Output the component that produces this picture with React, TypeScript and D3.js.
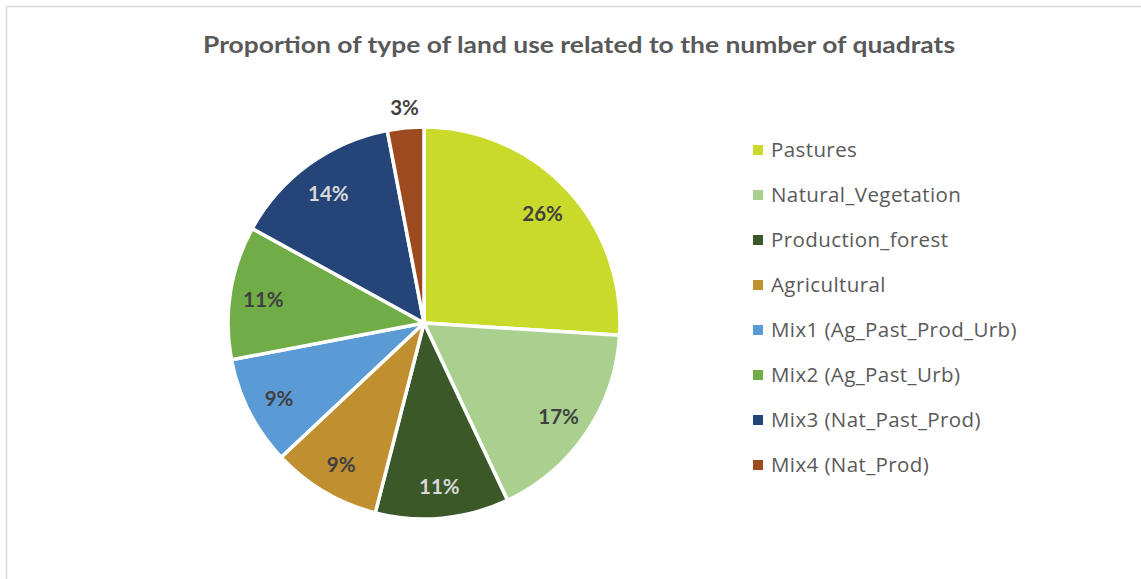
import React from "react";
import * as d3 from "d3";

const categories = [
  "Pastures",
  "Natural_Vegetation",
  "Production_forest",
  "Agricultural",
  "Mix1 (Ag_Past_Prod_Urb)",
  "Mix2 (Ag_Past_Urb)",
  "Mix3 (Nat_Past_Prod)",
  "Mix4 (Nat_Prod)",
];
const values = [26, 17, 11, 9, 9, 11, 14, 3];
const colors = ["#C9DA2B", "#A9D08E", "#3B5829", "#BF8F30", "#5B9BD5", "#70AD47", "#254478", "#9E4A21"];
const labelColors = ["#404040", "#404040", "#D9D9D9", "#404040", "#404040", "#404040", "#D9D9D9", "#404040"];
const title = "Proportion of type of land use related to the number of quadrats";

export default function App() {
  const W = 1141, H = 579;
  const cx = 424, cy = 323, r = 196;
  const pie = d3.pie<number>().sort(null).value((d) => d)(values);
  const arc = d3.arc<d3.PieArcDatum<number>>().innerRadius(0).outerRadius(r);
  const labelArc = d3.arc<d3.PieArcDatum<number>>().innerRadius(r * 0.83).outerRadius(r * 0.83);
  const outArc = d3.arc<d3.PieArcDatum<number>>().innerRadius(r * 1.11).outerRadius(r * 1.11);
  const total = d3.sum(values);
  const legendY = d3.scalePoint<number>().domain(d3.range(categories.length)).range([150, 465]);
  const font = "Lato, 'Open Sans', sans-serif";
  return (
    <svg width={W} height={H} style={{ position: "absolute", left: 0, top: 0, background: "#fff" }}>
      <line x1={6.5} y1={6.5} x2={W} y2={6.5} stroke="#D9D9D9" strokeWidth={1.5} />
      <line x1={6.5} y1={6.5} x2={6.5} y2={H} stroke="#D9D9D9" strokeWidth={1.5} />
      <text x={579} y={53} textAnchor="middle" fontFamily={font} fontWeight={700} fontSize={22} fill="#595959" textLength={752} lengthAdjust="spacingAndGlyphs">
        {title}
      </text>
      <g transform={`translate(${cx},${cy})`}>
        {pie.map((p, i) => (
          <path key={i} d={arc(p) || ""} fill={colors[i]} stroke="#fff" strokeWidth={3.5} strokeLinejoin="round" />
        ))}
        {pie.map((p, i) => {
          const outside = values[i] / total < 0.05;
          const [x, y] = outside ? outArc.centroid(p) : labelArc.centroid(p);
          return (
            <text key={i} x={outside ? x + 1 : x} y={outside ? y + 1 : y + 2} dy="0.35em" textAnchor="middle" fontFamily={font} fontWeight={700} fontSize={20.5} fill={labelColors[i]}>
              {`${Math.round((values[i] / total) * 100)}%`}
            </text>
          );
        })}
      </g>
      {categories.map((c, i) => (
        <g key={c} transform={`translate(0,${legendY(i)})`}>
          <rect x={753} y={-5} width={10} height={10} fill={colors[i]} />
          <text x={771} y={0} dy="0.35em" fontFamily="'Open Sans', sans-serif" fontSize={20.5} letterSpacing={0.4} fill="#595959">{c}</text>
        </g>
      ))}
    </svg>
  );
}
